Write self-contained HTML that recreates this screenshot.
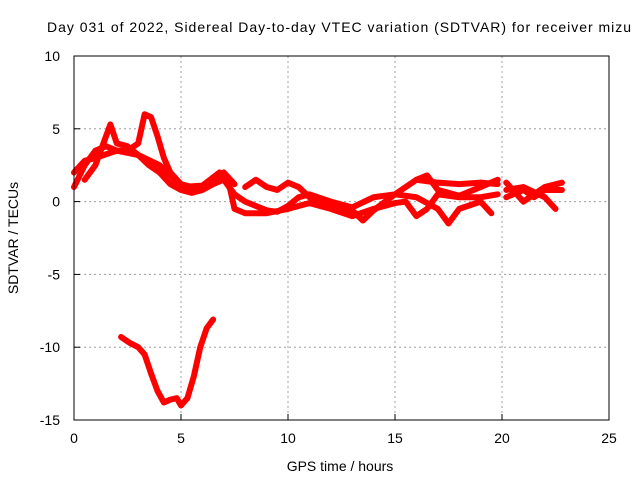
<!DOCTYPE html>
<html><head><meta charset="utf-8"><style>
body{margin:0;background:#fff;}
svg{display:block;font-family:"Liberation Sans",sans-serif;}
</style></head><body>
<svg id="chart" width="640" height="480" viewBox="0 0 640 480">
<g id="grid"></g>
<g id="series"></g>
<g id="axes"></g>
<text x="47" y="32" font-size="14" textLength="584" lengthAdjust="spacing">Day 031 of 2022, Sidereal Day-to-day VTEC variation (SDTVAR) for receiver mizu</text>
<text x="340" y="471" font-size="14" text-anchor="middle">GPS time / hours</text>
<text transform="translate(18,238) rotate(-90)" font-size="14" text-anchor="middle">SDTVAR / TECUs</text>
</svg>
<script>
const xTicks=[0,5,10,15,20,25];
const yTicks=[10,5,0,-5,-10,-15];
const s1=[[2.2,-9.3],[2.6,-9.7],[3.0,-10],[3.3,-10.5],[3.6,-11.8],[3.9,-13],[4.2,-13.8],[4.5,-13.6],[4.8,-13.5],[5.0,-14],[5.3,-13.5],[5.6,-12],[5.9,-10],[6.2,-8.7],[6.5,-8.1]];
const s2=[[0,1],[0.5,2.5],[1,3.5],[1.5,3.8],[2,3.5],[2.5,3.5],[3,4],[3.3,6],[3.6,5.8],[3.9,4.5],[4.2,3],[4.5,2],[5,1.2],[5.5,1],[6,1],[6.5,1.5],[7,2],[7.5,1.2]];
const s3=[[0.5,1.5],[1,2.5],[1.5,4.5],[1.7,5.3],[2,4],[2.5,3.8],[3,3.2],[3.5,2.5],[4,2],[4.5,1.2],[5,0.8],[5.5,0.6],[6,0.8],[6.5,1.2],[7,1.5],[7.5,0.5],[8,0],[8.5,-0.3],[9,-0.6],[9.5,-0.7],[10,-0.3],[10.5,0.3],[11,0.5],[12,0],[13,-0.4],[14,0.3],[15,0.5],[16,1.5],[17,1.3],[18,1.2],[19,1.3],[19.8,1.2]];
const s4=[[0,2],[0.5,2.8],[1,3],[2,3.5],[3,3.2],[4,2.5],[4.5,1.8],[5,1],[6,1.1],[6.8,2],[7.2,1.5],[7.5,-0.5],[8,-0.8],[9,-0.8],[10,-0.5],[11,-0.1],[12,-0.5],[13,-1],[14,-0.5],[15,-0.1],[15.5,0],[16,-1],[16.5,-0.5],[17,0.5],[18,0.3],[19,0.3],[19.8,0.5]];
const s5=[[8,1],[8.5,1.5],[9,1],[9.5,0.8],[10,1.3],[10.5,1],[11,0.3],[12,-0.3],[13,-0.6],[13.5,-1.3],[14,-0.6],[15,0.5],[16,0.3],[17,-0.5],[17.5,-1.5],[18,-0.5],[19,0],[19.5,-0.8]];
const s6=[[16,1.5],[16.5,1.8],[17,0.8],[18,0.4],[19,1],[19.8,1.5]];
const s7=[[20.2,0.8],[21,1],[22,0.3],[22.5,-0.5]];
const s8=[[20.2,1.3],[21,0],[22,1],[22.8,1.3]];
const s9=[[20.2,0.3],[21,0.8],[21.5,0.3],[22,0.8],[22.8,0.8]];
const allSeries=[s1,s2,s3,s4,s5,s6,s7,s8,s9];
const X0=74,X1=609,Y0=420,Y1=56;
const xs=v=>X0+(v-0)/25*(X1-X0);
const ys=v=>Y0-(v+15)/25*(Y0-Y1);
const NS="http://www.w3.org/2000/svg";
function mk(tag,attrs,parent){const e=document.createElementNS(NS,tag);for(const k in attrs)e.setAttribute(k,attrs[k]);parent.appendChild(e);return e;}
const grid=document.getElementById('grid'),axes=document.getElementById('axes'),ser=document.getElementById('series');
xTicks.forEach(t=>{
 const x=xs(t);
 if(t>0&&t<25){const g=mk('line',{x1:x,x2:x,y1:Y1,y2:Y0,stroke:'#a0a0a0','stroke-dasharray':'2,3'},grid);
 
 }
 const l=mk('line',{x1:x,x2:x,y1:Y0,y2:Y0-6,stroke:'#000'},axes);
 
 
 const tx=mk('text',{x:x,y:Y0+23,'font-size':14,'text-anchor':'middle'},axes);tx.textContent=t;
 
 
});
yTicks.forEach(t=>{
 const y=ys(t);
 if(t>-15&&t<10){const g=mk('line',{x1:X0,x2:X1,y1:y,y2:y,stroke:'#a0a0a0','stroke-dasharray':'2,3'},grid);
 
 }
 const l=mk('line',{x1:X0,x2:X0+6,y1:y,y2:y,stroke:'#000'},axes);
 
 
 const tx=mk('text',{x:X0-14,y:y+5,'font-size':14,'text-anchor':'end'},axes);tx.textContent=t;
 
 
});
const fr=mk('rect',{x:X0,y:Y1,width:X1-X0,height:Y0-Y1,fill:'none',stroke:'#000'},axes);


allSeries.forEach(s=>{
 const p=mk('polyline',{points:s.map(d=>xs(d[0])+','+ys(d[1])).join(' '),fill:'none',stroke:'#ff0000','stroke-width':6,'stroke-linejoin':'round','stroke-linecap':'round'},ser);
 
 
});
</script>
</body></html>
